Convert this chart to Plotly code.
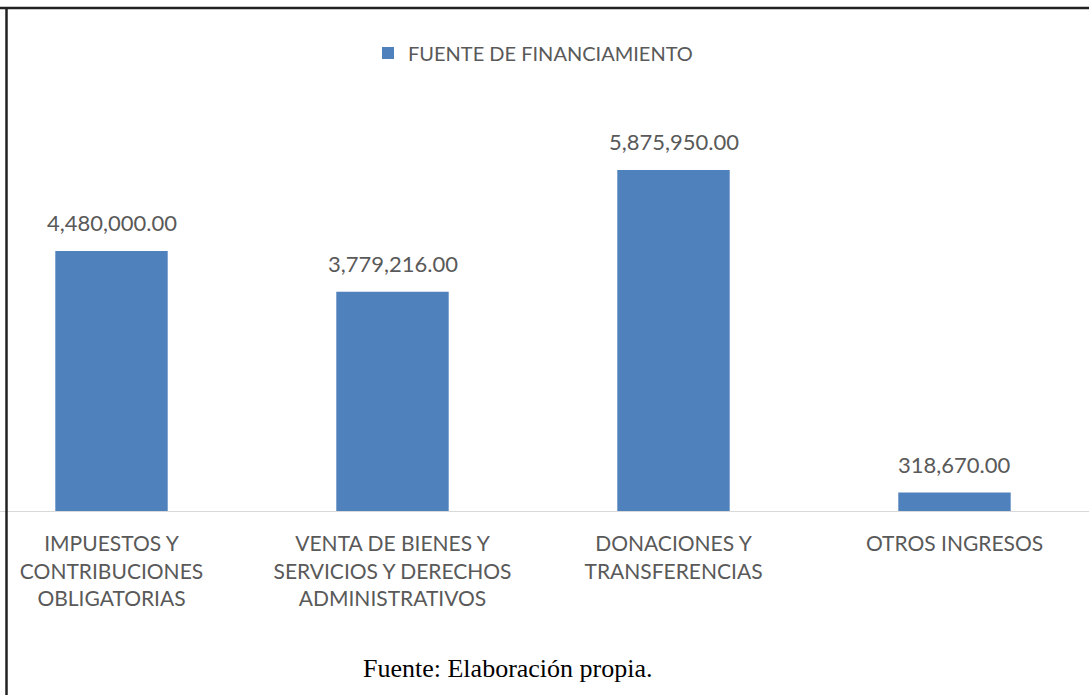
import plotly.graph_objects as go

categories = [
    "IMPUESTOS Y<br>CONTRIBUCIONES<br>OBLIGATORIAS",
    "VENTA DE BIENES Y<br>SERVICIOS Y DERECHOS<br>ADMINISTRATIVOS",
    "DONACIONES Y<br>TRANSFERENCIAS",
    "OTROS INGRESOS",
]
values = [4480000.00, 3779216.00, 5875950.00, 318670.00]
series_name = "FUENTE DE FINANCIAMIENTO"
footer = "Fuente: Elaboración propia."

BAR = "#4F81BD"
GRAY = "#595959"
FONT = "Lato"

W, H = 1089, 695
top_px, base_px = 100, 511
plot_h = base_px - top_px
px_per_unit = (base_px - 170) / 5875950.0
ymax = plot_h / px_per_unit

x_idx = list(range(len(categories)))

fig = go.Figure()
fig.add_trace(go.Bar(
    x=x_idx, y=values, name=series_name, width=0.4,
    marker=dict(color=BAR, line=dict(width=0)),
    showlegend=True,
))

for xi, v in zip(x_idx, values):
    fig.add_annotation(
        x=xi, y=v, xref="x", yref="y",
        text=f"{v:,.2f}", showarrow=False,
        yanchor="bottom", yshift=13,
        font=dict(family=FONT, size=22, color=GRAY),
    )

def py(p):
    return (base_px - p) / plot_h

fig.add_annotation(
    x=508 / W, y=py(668), xref="paper", yref="paper",
    text=footer, showarrow=False, xanchor="center", yanchor="middle",
    font=dict(family="Liberation Serif", size=26, color="#000000"),
)

# frame lines (top and left)
fig.add_shape(type="line", xref="paper", yref="paper",
              x0=0, x1=1, y0=py(8), y1=py(8),
              line=dict(color="#222222", width=2.5))
fig.add_shape(type="line", xref="paper", yref="paper",
              x0=6.5 / W, x1=6.5 / W, y0=py(8), y1=py(H + 5),
              line=dict(color="#222222", width=2.5))

c0 = 111.5
step = 281.0
fig.update_layout(
    width=W, height=H,
    margin=dict(l=0, r=0, t=top_px, b=H - base_px, pad=0),
    paper_bgcolor="white", plot_bgcolor="white",
    font=dict(family=FONT, size=20, color=GRAY),
    legend=dict(
        orientation="h", x=533 / W, xanchor="center",
        y=py(53), yanchor="middle",
        font=dict(family=FONT, size=20, color=GRAY),
        itemwidth=30, bgcolor="rgba(0,0,0,0)",
    ),
    xaxis=dict(
        tickmode="array", tickvals=x_idx, ticktext=categories,
        range=[-c0 / step, (W - c0) / step],
        showline=True, linecolor="#D9D9D9", linewidth=1,
        showgrid=False, zeroline=False, ticks="",
        ticklabelstandoff=14,
        tickfont=dict(family=FONT, size=21, color=GRAY),
        fixedrange=True,
    ),
    yaxis=dict(
        range=[0, ymax], visible=False, showgrid=False, zeroline=False,
        fixedrange=True,
    ),
)

fig.write_html(
    "out.html",
    config={"displayModeBar": False},
    post_script="document.body.style.margin='0';document.body.style.overflow='hidden';",
)
